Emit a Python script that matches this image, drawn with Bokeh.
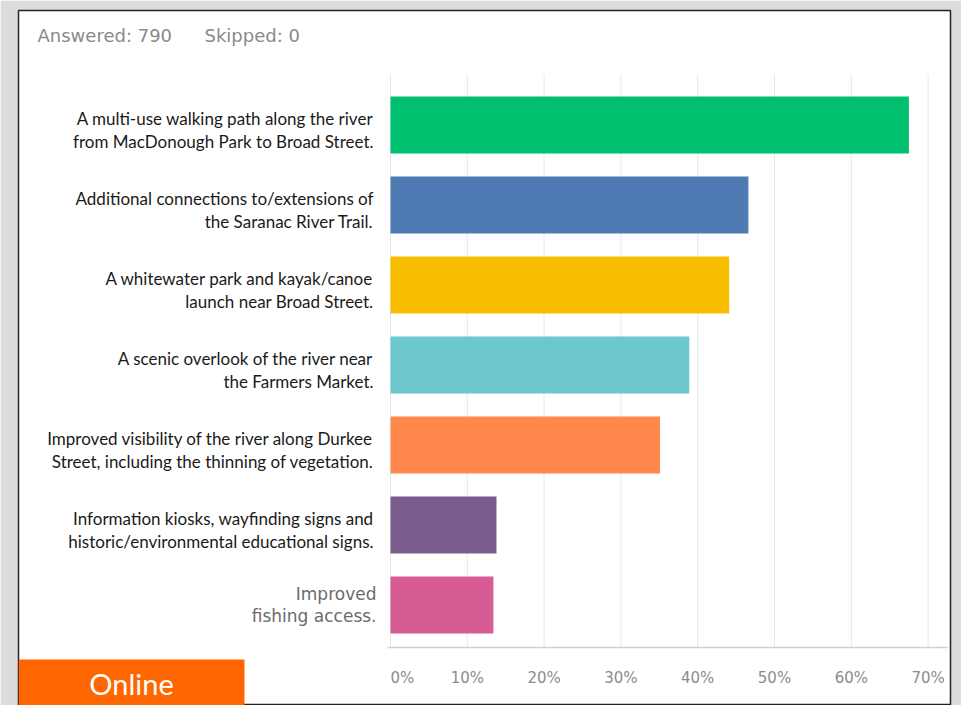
from bokeh.plotting import figure
from bokeh.models import Range1d, Label, BoxAnnotation, ColumnDataSource
from bokeh.core.properties import value
from bokeh.embed import file_html
from bokeh.resources import INLINE

# ---- data ----
categories = [
    "A multi-use walking path along the river\nfrom MacDonough Park to Broad Street.",
    "Additional connections to/extensions of\nthe Saranac River Trail.",
    "A whitewater park and kayak/canoe\nlaunch near Broad Street.",
    "A scenic overlook of the river near\nthe Farmers Market.",
    "Improved visibility of the river along Durkee\nStreet, including the thinning of vegetation.",
    "Information kiosks, wayfinding signs and\nhistoric/environmental educational signs.",
    "Improved\nfishing access.",
]
values = [67.5, 46.6, 44.1, 38.9, 35.1, 13.8, 13.4]
colors = ["#00bf6f", "#4f7ab3", "#f8be00", "#6cc8cc", "#ff884d", "#7a5c8e", "#d65c93"]
tick_values = [0, 10, 20, 30, 40, 50, 60, 70]
tick_labels = ["0%", "10%", "20%", "30%", "40%", "50%", "60%", "70%"]
answered_text = "Answered: 790"
skipped_text = "Skipped: 0"
badge_text = "Online"

# ---- layout helpers (canvas pixel -> data units) ----
W, H = 961, 705
X0_PX, SX = 390.0, 7.68      # x = 0 at 390 px, 7.68 px per percent
Y0_PX, SY = 124.5, 80.0      # first category centre at 124.5 px, 80 px per row
PANEL_L, PANEL_R, PANEL_T = 18, 950, 10
def px_x(px):
    return (px - X0_PX) / SX
def px_y(py):
    return (py - Y0_PX) / SY

idx = list(range(len(categories)))
n = len(categories)

p = figure(width=W, height=H, output_backend="svg", toolbar_location=None,
           x_range=Range1d(px_x(PANEL_L), px_x(PANEL_R)),
           y_range=Range1d(px_y(H), px_y(PANEL_T)),
           x_axis_location=None, y_axis_location=None,
           min_border_left=PANEL_L, min_border_right=W - PANEL_R,
           min_border_top=PANEL_T, min_border_bottom=0)
p.border_fill_color = "#dcdcdc"
p.background_fill_color = "white"
p.outline_line_color = "#222222"
p.outline_line_width = 1.5
p.xgrid.visible = False
p.ygrid.visible = False

# vertical grid lines (between the top of the chart and the axis line)
grid_top, axis_y = px_y(74), px_y(647)
p.segment(x0=tick_values, x1=tick_values, y0=[grid_top] * len(tick_values),
          y1=[axis_y] * len(tick_values), line_color="#e8e8e8", line_width=1)

# bars
src = ColumnDataSource(dict(y=idx, right=values, color=colors))
p.hbar(y="y", left=0, right="right", height=0.7125, color="color",
       line_color=None, source=src)

# axis line
p.segment(x0=[px_x(387)], x1=[px_x(947)], y0=[axis_y], y1=[axis_y],
          line_color="#d0d0d0", line_width=1.5)

# x tick labels (0% is left aligned, others centred)
tick_src = ColumnDataSource(dict(
    x=tick_values, y=[px_y(677)] * len(tick_values), text=tick_labels,
    align=["left"] + ["center"] * (len(tick_values) - 1)))
p.text(x="x", y="y", text="text", text_align="align", text_baseline="middle",
       text_font=value("DejaVu Sans"), text_font_size="15px", text_color="#8c8c8c",
       source=tick_src)

# category labels
cat_src = ColumnDataSource(dict(x=[0] * (n - 1), y=idx[:-1], text=categories[:-1]))
p.text(x="x", y="y", text="text", x_offset=-17, y_offset=5, text_align="right",
       text_baseline="middle", text_font=value("Lato"), text_font_size="17px",
       text_color="#1a1a1a", text_line_height=1.13, source=cat_src)
last_src = ColumnDataSource(dict(x=[0], y=idx[-1:], text=categories[-1:]))
p.text(x="x", y="y", text="text", x_offset=-14, text_align="right",
       text_baseline="middle", text_font=value("DejaVu Sans"), text_font_size="17px",
       text_color="#6b6b6b", text_line_height=1.1, source=last_src)

# header texts
p.add_layout(Label(x=px_x(37), y=px_y(35), text=answered_text, text_align="left",
                   text_baseline="middle", text_font="DejaVu Sans",
                   text_font_size="18px", text_color="#8a8a8a"))
p.add_layout(Label(x=px_x(204), y=px_y(35), text=skipped_text, text_align="left",
                   text_baseline="middle", text_font="DejaVu Sans",
                   text_font_size="18px", text_color="#8a8a8a"))

# Online badge
p.add_layout(BoxAnnotation(left=px_x(PANEL_L), right=px_x(244), top=px_y(659),
                           bottom=px_y(H + 5), fill_color="#ff6600", fill_alpha=1.0,
                           line_color=None))
p.add_layout(Label(x=px_x(131), y=px_y(683), text=badge_text, text_align="center",
                   text_baseline="middle", text_font="Lato", text_font_size="29px",
                   text_color="white"))

open("out.html", "w").write(file_html(p, INLINE))
